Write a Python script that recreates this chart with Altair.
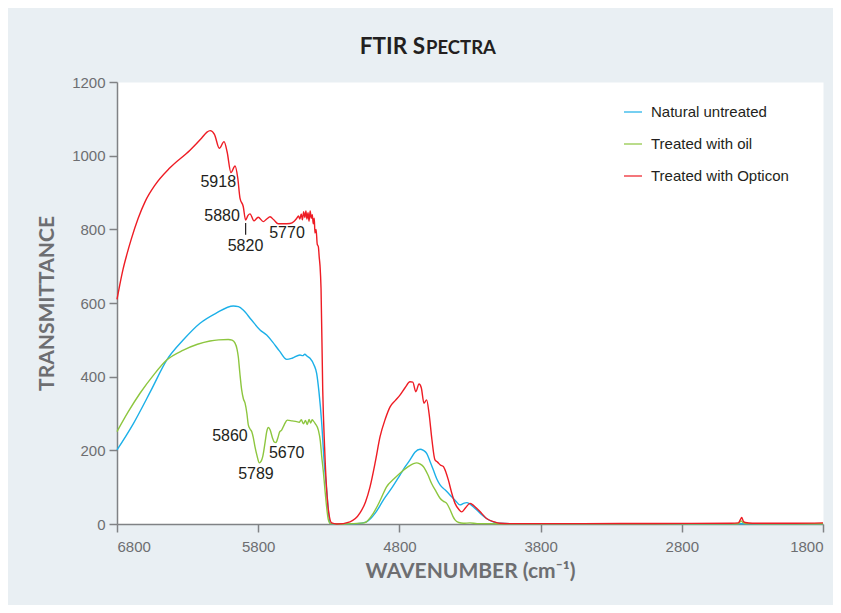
import altair as alt
import pandas as pd

# ---------------- data ----------------
SERIES = ["Natural untreated", "Treated with oil", "Treated with Opticon"]
COLORS = ["#1cb0e8", "#8dc63f", "#ee1c24"]

NATURAL_WN = [6800, 6685, 6560, 6448, 6330, 6212, 6100, 5976, 5940, 5906, 5850, 5787,
              5740, 5700, 5650, 5598, 5560, 5504, 5485, 5470, 5455, 5433, 5405, 5386,
              5370, 5350, 5335, 5315, 5300, 5292, 5250, 5100, 5032, 4970, 4914, 4850,
              4796, 4760, 4725, 4690, 4654, 4630, 4607, 4585, 4560, 4535, 4512, 4475,
              4442, 4400, 4371, 4345, 4324, 4300, 4277, 4230, 4183, 4130, 4088, 4000,
              3000, 1800]
NATURAL_T = [201, 272, 362, 445, 500, 545, 572, 592, 590, 581, 555, 527,
             513, 495, 470, 447, 450, 459, 457, 461, 456, 450, 432, 409,
             360, 273, 180, 92, 25, 2, 0, 1, 6, 30, 65, 100,
             133, 155, 174, 195, 203, 200, 192, 172, 147, 122, 106, 92,
             79, 62, 52, 56, 58, 54, 47, 30, 15, 5, 2, 0.5,
             0.5, 0.5]

OIL_WN = [6800, 6720, 6637, 6540, 6448, 6330, 6230, 6141, 6080, 6012, 5985, 5964,
          5950, 5941, 5930, 5917, 5905, 5893, 5880, 5870, 5858, 5846, 5835, 5823,
          5808, 5792, 5780, 5768, 5750, 5740, 5728, 5715, 5700, 5685, 5674, 5660,
          5648, 5634, 5615, 5594, 5560, 5527, 5510, 5495, 5480, 5465, 5452, 5440,
          5428, 5418, 5410, 5395, 5374, 5360, 5350, 5338, 5327, 5315, 5303, 5290,
          5200, 5050, 4985, 4935, 4891, 4840, 4796, 4740, 4700, 4678, 4655, 4631,
          4600, 4572, 4540, 4512, 4490, 4465, 4440, 4420, 4406, 4380, 4347, 4300,
          4250, 4000, 2400, 2380, 2370, 2350, 1800]
OIL_T = [251, 305, 355, 405, 445, 472, 488, 497, 500, 501, 499, 491,
         475, 454, 410, 364, 340, 328, 300, 269, 258, 251, 235, 210,
         185, 166, 170, 183, 225, 250, 262, 255, 235, 222, 221, 235,
         250, 255, 270, 282, 280, 278, 276, 283, 272, 281, 270, 284,
         274, 283, 280, 272, 255, 225, 183, 140, 92, 45, 11, 1,
         0, 3, 29, 65, 101, 122, 138, 155, 164, 166, 163, 156,
         135, 110, 88, 70, 62, 56, 38, 20, 11, 4, 2, 3,
         1, 0.5, 0.5, 8, 5, 1, 0.5]

OPTICON_WN = [6800, 6780, 6757, 6730, 6700, 6650, 6600, 6531, 6425, 6283, 6200, 6163,
              6140, 6110, 6075, 6042, 6020, 5993, 5964, 5945, 5929, 5906, 5889, 5872,
              5858, 5830, 5800, 5764, 5740, 5716, 5690, 5658, 5620, 5575, 5545, 5527,
              5515, 5505, 5495, 5487, 5478, 5470, 5462, 5455, 5447, 5440, 5432, 5424,
              5417, 5410, 5403, 5398, 5390, 5382, 5374, 5368, 5362, 5355, 5343, 5330,
              5315, 5300, 5280, 5244, 5150, 5079, 5040, 5008, 4970, 4937, 4900, 4866,
              4830, 4796, 4760, 4725, 4705, 4684, 4661, 4645, 4626, 4607, 4590, 4570,
              4548, 4530, 4510, 4489, 4470, 4453, 4430, 4406, 4380, 4359, 4330, 4300,
              4280, 4265, 4220, 4183, 4130, 4088, 4000, 3500, 3000, 2450, 2400, 2385,
              2376, 2365, 2350, 2300, 2000, 1800]
OPTICON_T = [610, 650, 692, 732, 772, 830, 876, 920, 967, 1015, 1048, 1064,
             1068, 1058, 1020, 1038, 1010, 954, 972, 940, 885, 862, 825, 838,
             842, 823, 833, 821, 828, 834, 826, 815, 815, 816, 822, 830,
             836, 828, 842, 826, 848, 832, 850, 828, 845, 822, 850, 830,
             840, 815, 830, 790, 800, 760, 753, 725, 700, 640, 364, 210,
             92, 30, 3, 0, 6, 30, 60, 101, 170, 237, 285, 318,
             335, 350, 370, 386, 385, 359, 380, 370, 328, 337, 300, 230,
             174, 168, 160, 156, 140, 119, 85, 56, 40, 33, 45, 56,
             52, 47, 30, 15, 6, 2, 1, 1, 1.5, 2, 3, 12,
             18, 8, 4, 2, 2, 3]

LABEL_TEXT = ["5918", "5880", "5820", "5770", "5860", "5789", "5670"]
LABEL_WN = [6083, 6056, 5890, 5596, 6000, 5816, 5598]
LABEL_T = [929, 836, 755, 790, 239, 136, 193]

MARKER_WN = [5889]
MARKER_T1 = [817]
MARKER_T2 = [785]

X_TICKS = [6800, 5800, 4800, 3800, 2800, 1800]
Y_TICKS = [0, 200, 400, 600, 800, 1000, 1200]

TITLE_MAIN = "FTIR S"
TITLE_SMALL = "PECTRA"

# ---------------- tables ----------------
frames = []
for name, wn, t in zip(SERIES, [NATURAL_WN, OIL_WN, OPTICON_WN],
                       [NATURAL_T, OIL_T, OPTICON_T]):
    frames.append(pd.DataFrame({"wn": wn, "t": t, "series": name}))
df = pd.concat(frames, ignore_index=True)

ann = pd.DataFrame({"wn": LABEL_WN, "t": LABEL_T, "label": LABEL_TEXT})
mark_df = pd.DataFrame({"wn": MARKER_WN, "t": MARKER_T1, "t2": MARKER_T2})

X = alt.X("wn:Q",
          scale=alt.Scale(domain=[1800, 6800], reverse=True, nice=False, zero=False),
          axis=alt.Axis(values=X_TICKS, format="d", title="WAVENUMBER (cm⁻¹)",
                        labelPadding=7, titlePadding=6))
Y = alt.Y("t:Q",
          scale=alt.Scale(domain=[0, 1200], nice=False),
          axis=alt.Axis(values=Y_TICKS, format="d", title="TRANSMITTANCE",
                        labelPadding=4, titlePadding=14))
COLOR = alt.Color("series:N",
                  scale=alt.Scale(domain=SERIES, range=COLORS),
                  legend=alt.Legend(title=None, orient="none", legendX=506, legendY=20,
                                    symbolType="stroke", symbolSize=324,
                                    symbolStrokeWidth=1.5, symbolOpacity=0.8,
                                    labelFont="Liberation Sans", labelFontSize=15,
                                    labelColor="#231f20", rowPadding=14, labelOffset=8))

base = alt.Chart(df).mark_line(strokeWidth=1.4, interpolate="monotone").encode(
    x=X, y=Y, color=COLOR)
lines = [base.transform_filter(alt.datum.series == s) for s in SERIES]

labels = alt.Chart(ann).mark_text(font="Liberation Sans", fontSize=16,
                                  color="#231f20").encode(x=X, y=Y, text="label:N")
marker = alt.Chart(mark_df).mark_rule(color="#231f20", strokeWidth=1.2).encode(
    x=X, y=Y, y2="t2:Q")

title_a = alt.Chart(pd.DataFrame({"txt": [TITLE_MAIN]})).mark_text(
    font="Lato", fontWeight="bold", fontSize=22.5, color="#231f20",
    align="right", baseline="alphabetic").encode(
    text="txt:N", x=alt.value(308), y=alt.value(-28))
title_b = alt.Chart(pd.DataFrame({"txt": [TITLE_SMALL]})).mark_text(
    font="Lato", fontWeight="bold", fontSize=18.5, color="#231f20",
    align="left", baseline="alphabetic").encode(
    text="txt:N", x=alt.value(309), y=alt.value(-28))

chart = alt.layer(*lines, labels, marker, title_a, title_b).properties(
    width=706, height=442,
    autosize=alt.AutoSizeParams(type="none"),
    padding={"left": 109, "top": 74, "right": 10, "bottom": 81},
    background="#e9eff3",
).configure_view(fill="white", stroke="transparent").configure_axis(
    grid=False, domainColor="#808285", domainWidth=1.5, tickColor="#808285",
    tickWidth=1.5, tickSize=8, labelColor="#6d6e71", labelFont="Liberation Sans",
    labelFontSize=15, titleColor="#6d6e71", titleFont="Lato", titleFontWeight="bold",
    titleFontSize=21)

chart.save("out.html", embed_options={"renderer": "svg", "actions": False})
